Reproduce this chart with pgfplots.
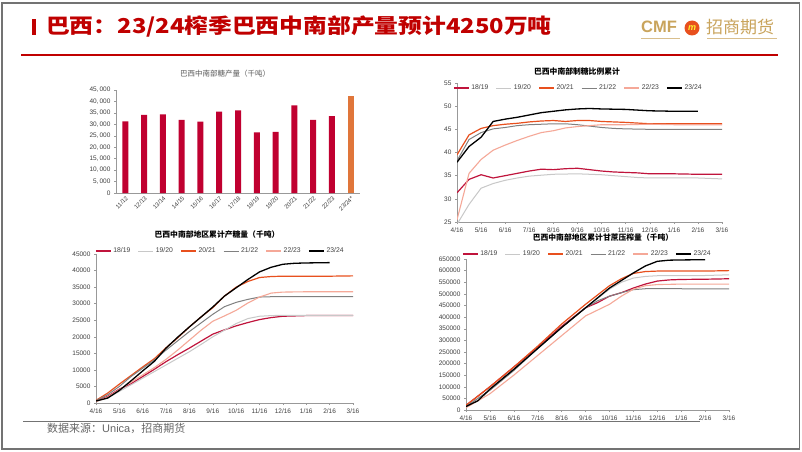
\documentclass[border=0pt]{standalone}
\usepackage{fontspec}
\usepackage{graphicx}
\usepackage{pgfplots}
\pgfplotsset{compat=1.18}
\setmainfont{Liberation Sans}
\newfontfamily\cjk{Noto Sans CJK SC}
\definecolor{c1819}{HTML}{C0143C}
\definecolor{c1920}{HTML}{C8C8C8}
\definecolor{c2021}{HTML}{E8501E}
\definecolor{c2122}{HTML}{808080}
\definecolor{c2223}{HTML}{F5A898}
\definecolor{barred}{HTML}{C00030}
\definecolor{barorange}{HTML}{E0763A}
\definecolor{titlered}{HTML}{C00000}
\definecolor{gold}{HTML}{C9A45C}
\definecolor{tickgray}{HTML}{404040}
\pgfplotsset{
  base/.style={scale only axis, axis lines*=left,
    axis line style={draw=black!40, line width=0.5pt},
    tick style={black!40, line width=0.4pt}, tick align=outside,
    major tick length=2pt,
    tick label style={font=\fontsize{6.5}{7}\selectfont, text=tickgray},
    /pgf/number format/assume math mode=true,
    clip=true},
  months/.style={xmin=0, xmax=11, xtick={0,...,11},
    xticklabels={4/16,5/16,6/16,7/16,8/16,9/16,10/16,11/16,12/16,1/16,2/16,3/16},
    scaled y ticks=false,
    yticklabel style={/pgf/number format/fixed, /pgf/number format/1000 sep={}},
    legend columns=6,
    legend style={draw=none, fill=none, inner xsep=0pt, inner ysep=0pt, anchor=west,
      font=\fontsize{6.8}{7}\selectfont, text=tickgray,
      /tikz/every even column/.append style={column sep=5.5pt}},
    legend image code/.code={\draw[#1] (0pt,0pt) -- (15pt,0pt);}},
  s1819/.style={c1819, line width=1.2pt},
  s1920/.style={c1920, line width=1.0pt},
  s2021/.style={c2021, line width=1.2pt},
  s2122/.style={c2122, line width=1.0pt},
  s2223/.style={c2223, line width=1.1pt},
  s2324/.style={black, line width=1.3pt},
}
\begin{document}
\begin{tikzpicture}
\begin{scope}[x=1pt,y=1pt]
\useasboundingbox (0,0) rectangle (802,451);
\fill[white] (0,0) rectangle (802,451);
\draw[black!55, line width=1.3pt] (2,448) rectangle (799.5,2);
% header
\fill[titlered] (32,416) rectangle (36,432);
\node[anchor=west, inner sep=0pt, text=titlered] at (46,424)
  {\scalebox{1.16}[1]{\cjk\bfseries\fontsize{20.5}{22}\selectfont 巴西：23/24榨季巴西中南部产量预计4250万吨}};
\draw[titlered, line width=1.2pt] (21,396) -- (778,396);
% logo
\node[anchor=west, inner sep=0pt, text=gold] at (641,424) {\bfseries\fontsize{16.5}{17}\selectfont CMF};
\fill[c2021] (692,423) circle (7.5);
\node[text=yellow!80!white, inner sep=0pt] at (692,423) {\bfseries\itshape\fontsize{9}{9}\selectfont m};
\node[anchor=west, inner sep=0pt, text=gold] at (706,424) {\cjk\fontsize{17}{18}\selectfont 招商期货};
\draw[gold!70, line width=0.6pt] (641,413) -- (680,413);
\draw[gold!70, line width=0.6pt] (707,413) -- (777,413);
% footer
\draw[black!55, line width=1pt] (23,30) -- (700,30);
\node[anchor=west, inner sep=0pt, text=black!60] at (47,23)
  {\fontsize{11}{12}\selectfont{\cjk 数据来源：}Unica{\cjk ，招商期货}};
% chart titles
\node[text=black!65] at (225,377) {\cjk\fontsize{7.5}{8}\selectfont 巴西中南部糖产量（千吨）};
\node at (577,379) {\cjk\bfseries\fontsize{7.8}{8}\selectfont 巴西中南部制糖比例累计};
\node at (217,216) {\cjk\bfseries\fontsize{7.8}{8}\selectfont 巴西中南部地区累计产糖量（千吨）};
\node at (603,213) {\cjk\bfseries\fontsize{7.8}{8}\selectfont 巴西中南部地区累计甘蔗压榨量（千吨）};
\end{scope}

% ---- Chart 1: bars
\begin{axis}[base, at={(116pt,258pt)}, anchor=south west, width=244pt, height=103pt,
  xmin=-0.5, xmax=12.5, ymin=0, ymax=45000,
  ytick={0,5000,...,45000}, scaled y ticks=false,
  yticklabel style={/pgf/number format/fixed, /pgf/number format/1000 sep={,\,}},
  xtick={0,...,12}, xticklabels={11/12,12/13,13/14,14/15,15/16,16/17,17/18,18/19,19/20,20/21,21/22,22/23,23/24*},
  xticklabel style={rotate=45, anchor=north east, inner sep=0.5pt, font=\fontsize{6}{6}\selectfont},
  x tick style={draw=none},
  extra x ticks={-0.5,0.5,...,12.5}, extra x tick labels={},
  extra x tick style={tick style={black!40}},
  ]
\addplot[ybar, bar width=6pt, fill=barred, draw=none] coordinates {
(0,31300)(1,34100)(2,34300)(3,32000)(4,31200)(5,35600)(6,36100)(7,26500)(8,26700)(9,38300)(10,32000)(11,33600)};
\addplot[ybar, bar width=6pt, fill=barorange, draw=none] coordinates {(12,42500)};
\end{axis}

% ---- Chart 2: ratio
\begin{axis}[base, months, at={(457pt,229pt)}, anchor=south west, width=265pt, height=139pt,
  ymin=25, ymax=55, ytick={25,30,...,55},
  legend style={at={(-0.015,0.964)}}]
\addplot[s1819] coordinates {(0,31.3)(0.5,34.2)(1,35.2)(1.5,34.5)(2,35)(2.5,35.5)(3,36)(3.5,36.4)(4,36.3)(4.5,36.5)(5,36.6)(5.5,36.3)(6,36)(6.5,35.8)(7,35.7)(7.5,35.6)(8,35.4)(9,35.4)(10,35.3)(11,35.3)};
\addlegendentry{18/19}
\addplot[s1920] coordinates {(0,24.5)(0.5,28.8)(1,32.3)(1.5,33.3)(2,34)(2.5,34.5)(3,34.9)(3.5,35.1)(4,35.3)(5,35.4)(6,35.2)(7,34.8)(7.5,34.6)(8,34.5)(9,34.5)(10,34.5)(11,34.3)};
\addlegendentry{19/20}
\addplot[s2021] coordinates {(0,39.5)(0.5,43.8)(1,45.2)(1.5,45.8)(2,46.1)(2.5,46.3)(3,46.6)(3.5,46.8)(4,46.9)(4.5,46.7)(5,46.9)(5.5,46.9)(6,46.7)(7,46.5)(8,46.2)(9,46.2)(10,46.2)(11,46.2)};
\addlegendentry{20/21}
\addplot[s2122] coordinates {(0,38.2)(0.5,42.8)(1,44.3)(1.5,45.1)(2,45.4)(2.5,45.8)(3,46)(3.5,46.1)(4,46.2)(4.5,46.2)(5,46)(5.5,45.7)(6,45.4)(6.5,45.2)(7,45.1)(8,45)(9,45)(10,45)(11,45)};
\addlegendentry{21/22}
\addplot[s2223] coordinates {(0,25.5)(0.5,35.5)(1,38.5)(1.5,40.5)(2,41.6)(2.5,42.6)(3,43.5)(3.5,44.3)(4,44.7)(4.5,45.3)(5,45.6)(5.5,45.8)(6,46)(7,46)(8,46.1)(9,46)(10,46)(11,46)};
\addlegendentry{22/23}
\addplot[s2324] coordinates {(0,37.9)(0.5,41.3)(1,43.3)(1.5,46.7)(2,47.2)(2.5,47.6)(3,48.1)(3.5,48.6)(4,48.9)(4.5,49.2)(5,49.4)(5.5,49.5)(6,49.4)(7,49.3)(8,49)(9,48.9)(10,48.9)};
\addlegendentry{23/24}
\end{axis}

% ---- Chart 3: cumulative sugar
\begin{axis}[base, months, at={(96pt,48pt)}, anchor=south west, width=257pt, height=149pt,
  ymin=0, ymax=45000, ytick={0,5000,...,45000},
  legend style={at={(-0.004,1.02)}}]
\addplot[s1819] coordinates {(0,600)(0.5,2000)(1,4200)(1.5,5800)(2,8000)(2.5,10200)(3,12500)(3.5,14600)(4,16600)(4.5,18700)(5,20800)(5.5,22100)(6,23300)(6.5,24300)(7,25200)(7.5,25800)(8,26200)(9,26400)(10,26400)(11,26400)};
\addlegendentry{18/19}
\addplot[s1920] coordinates {(0,500)(0.5,1500)(1,3500)(1.5,5500)(2,7500)(2.5,9500)(3,11500)(3.5,13500)(4,15500)(4.5,17700)(5,20000)(5.5,22000)(6,24000)(6.5,25500)(7,26200)(7.5,26400)(8,26500)(9,26500)(10,26500)(11,26500)};
\addlegendentry{19/20}
\addplot[s2021] coordinates {(0,800)(0.5,3000)(1,5700)(1.5,8300)(2,10900)(2.5,13400)(3,16700)(3.5,19700)(4,23000)(4.5,26000)(5,28800)(5.5,32300)(6,35000)(6.5,36700)(7,37900)(7.5,38200)(8,38300)(9,38300)(10,38300)(11,38400)};
\addlegendentry{20/21}
\addplot[s2122] coordinates {(0,700)(0.5,2500)(1,5000)(1.5,8000)(2,10500)(2.5,13000)(3,16000)(3.5,18800)(4,21600)(4.5,24200)(5,26800)(5.5,29100)(6,30400)(6.5,31300)(7,32000)(7.5,32100)(8,32100)(9,32100)(10,32100)(11,32100)};
\addlegendentry{21/22}
\addplot[s2223] coordinates {(0,400)(0.5,1800)(1,4000)(1.5,6300)(2,8500)(2.5,10700)(3,13200)(3.5,16000)(4,19000)(4.5,22000)(5,24700)(5.5,26300)(6,28000)(6.5,30200)(7,32000)(7.5,33200)(8,33500)(9,33600)(10,33600)(11,33600)};
\addlegendentry{22/23}
\addplot[s2324] coordinates {(0,600)(0.5,1500)(1,3800)(1.5,6700)(2,9700)(2.5,12600)(3,16600)(3.5,19900)(4,23000)(4.5,26000)(5,29000)(5.5,32300)(6,34800)(6.5,37300)(7,39600)(7.5,41000)(8,41900)(8.5,42200)(9,42300)(10,42400)};
\addlegendentry{23/24}
\end{axis}

% ---- Chart 4: cumulative cane crush
\begin{axis}[base, months, at={(466pt,41pt)}, anchor=south west, width=263pt, height=151pt,
  ymin=0, ymax=650000, ytick={0,50000,...,650000},
  legend style={at={(-0.015,1.033)}}]
\addplot[s1819] coordinates {(0,20000)(1,100000)(2,185000)(3,270000)(4,360000)(5,440000)(5.5,462000)(6,490000)(6.5,505000)(7,525000)(7.5,542000)(8,555000)(8.5,560000)(9,562000)(10,563000)(11,565000)};
\addlegendentry{18/19}
\addplot[s1920] coordinates {(0,15000)(1,85000)(2,175000)(3,265000)(4,355000)(5,440000)(5.5,480000)(6,520000)(6.5,550000)(7,568000)(7.5,575000)(8,578000)(9,578000)(10,579000)(11,582000)};
\addlegendentry{19/20}
\addplot[s2021] coordinates {(0,20000)(1,100000)(2,185000)(3,275000)(4,370000)(5,455000)(6,535000)(6.5,565000)(7,588000)(7.5,596000)(8,598000)(9,598000)(10,598000)(11,600000)};
\addlegendentry{20/21}
\addplot[s2122] coordinates {(0,15000)(1,85000)(2,170000)(3,265000)(4,355000)(5,440000)(5.5,470000)(6,490000)(6.5,505000)(7,518000)(7.5,522000)(8,522000)(9,522000)(10,521000)(11,521000)};
\addlegendentry{21/22}
\addplot[s2223] coordinates {(0,10000)(1,70000)(2,150000)(3,235000)(4,320000)(5,405000)(6,455000)(6.5,490000)(7,520000)(7.5,535000)(8,540000)(9,542000)(10,542000)(11,542000)};
\addlegendentry{22/23}
\addplot[s2324] coordinates {(0,15000)(0.5,40000)(1,90000)(2,175000)(3,265000)(4,355000)(5,440000)(6,525000)(7,590000)(7.5,620000)(8,640000)(8.5,645000)(9,646000)(10,647000)};
\addlegendentry{23/24}
\end{axis}
\end{tikzpicture}
\end{document}
